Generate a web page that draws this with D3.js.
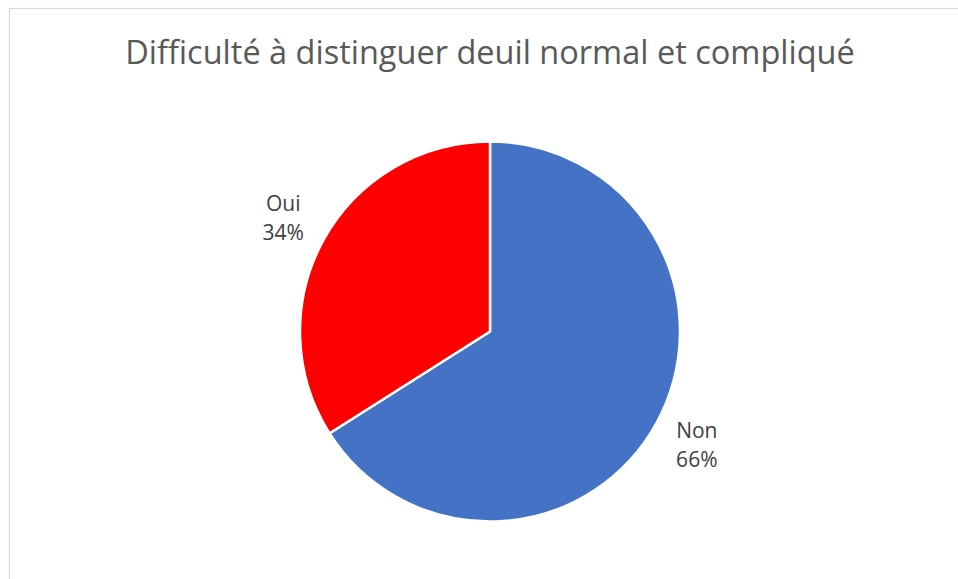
<!DOCTYPE html>
<html>
<head>
<meta charset="utf-8">
<script src="https://cdn.jsdelivr.net/npm/d3@7"></script>
<style>
  body { margin: 0; background: #fff; }
  svg { display: block; font-family: "Open Sans", sans-serif; }
  .title { font-size: 32.5px; fill: #595959; }
  .label { font-size: 21px; fill: #404040; }
</style>
</head>
<body>
<svg width="958" height="579"></svg>
<script>
const CATEGORIES = ['Non', 'Oui'];
const VALUES = [66, 34];
const COLORS = ['#4472C4', '#FF0000'];
const TITLE = 'Difficulté à distinguer deuil normal et compliqué';

const PARAMS = {
    width: 958,
    height: 579,
    cx: 490,
    cy: 331.5,
    radius: 190,
    labelRadius: 236,
};

const svg = d3.select('svg');

// chart frame
svg.append('rect')
    .attr('x', 9.5)
    .attr('y', 8.5)
    .attr('width', 980)
    .attr('height', 600)
    .attr('fill', '#fff')
    .attr('stroke', '#d9d9d9')
    .attr('stroke-width', 1.2);

svg.append('text')
    .classed('title', true)
    .attr('x', PARAMS.cx)
    .attr('y', 64)
    .attr('text-anchor', 'middle')
    .text(TITLE);

const pie = d3.pie().sort(null).value(d => d.value);
const data = pie(CATEGORIES.map((c, i) => ({ name: c, value: VALUES[i], color: COLORS[i] })));

const arc = d3.arc().innerRadius(0).outerRadius(PARAMS.radius);
const labelArc = d3.arc().innerRadius(PARAMS.labelRadius).outerRadius(PARAMS.labelRadius);

const g = svg.append('g').attr('transform', `translate(${PARAMS.cx},${PARAMS.cy})`);

g.selectAll('.slice')
    .data(data)
    .enter()
    .append('path')
    .classed('slice', true)
    .attr('d', arc)
    .attr('fill', d => d.data.color)
    .attr('stroke', '#fff')
    .attr('stroke-width', 2.5)
    .attr('stroke-linejoin', 'round');

const labels = g.selectAll('.label')
    .data(data)
    .enter()
    .append('text')
    .classed('label', true)
    .attr('text-anchor', 'middle')
    .attr('transform', d => `translate(${labelArc.centroid(d)})`);

labels.append('tspan')
    .attr('x', 0)
    .attr('y', -7)
    .text(d => d.data.name);

labels.append('tspan')
    .attr('x', 0)
    .attr('y', 22)
    .text(d => d.data.value + '%');
</script>
</body>
</html>
